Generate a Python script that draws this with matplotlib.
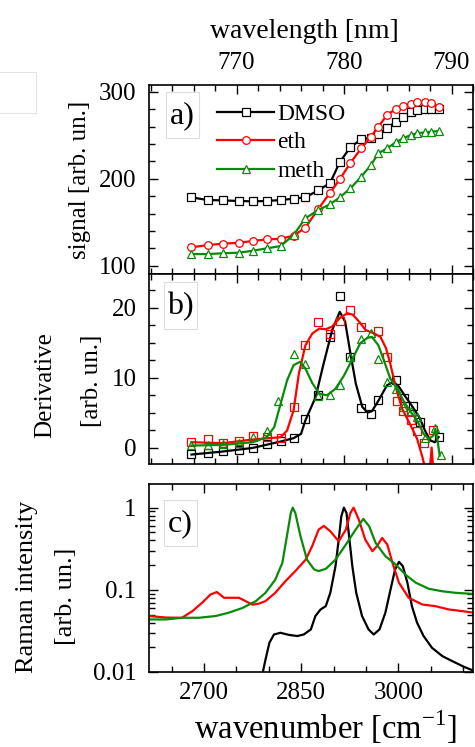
import matplotlib
matplotlib.use("Agg")
import matplotlib.pyplot as plt
from matplotlib.ticker import MultipleLocator, LogLocator, NullFormatter, FixedLocator, FuncFormatter
from matplotlib.patches import Rectangle

plt.rcParams['font.family'] = ['Liberation Serif', 'DejaVu Serif']
plt.rcParams['mathtext.fontset'] = 'custom'
plt.rcParams['mathtext.rm'] = 'Liberation Serif'

# ---------------- data ----------------
series_names = ["DMSO", "eth", "meth"]
series_colors = ["black", "#ff0000", "#0a8a0a"]

# panel a: signal vs wavelength (nm)
wl_a = [765.8, 767.3, 768.7, 770.2, 771.5, 772.8, 774.1, 775.3, 776.4, 777.6, 778.7, 779.6,
        780.6, 781.6, 782.5, 783.2, 784.0, 784.8, 785.5, 786.2, 786.8, 787.5, 788.1, 788.8]
sig_dmso = [178.6, 175.5, 175.1, 174.4, 174.0, 174.4, 175.5, 177.0, 178.6, 186.6, 195.0, 219.0,
            236.4, 245.2, 247.1, 251.0, 257.9, 265.5, 271.3, 276.2, 279.3, 280.1, 280.1, 280.1]
sig_eth = [121.1, 123.8, 125.3, 126.4, 128.4, 130.3, 131.0, 134.5, 143.7, 165.2, 183.9, 199.3,
           218.4, 234.9, 248.3, 259.8, 273.2, 280.1, 283.9, 286.2, 287.8, 288.5, 287.5, 282.0]
sig_meth = [113.4, 113.4, 114.3, 115.0, 117.2, 120.0, 122.6, 135.3, 154.5, 164.0, 170.6, 178.6,
            189.0, 202.3, 215.7, 229.2, 234.9, 241.8, 246.4, 250.2, 252.2, 253.3, 254.0, 254.8]

# panel b: derivative markers (wavelength nm)
wl_b_dmso = [765.8, 767.3, 768.7, 770.2, 771.5, 772.8, 774.1, 775.3, 776.4, 777.6, 778.7, 779.6,
             780.6, 781.6, 782.5, 783.2, 784.8, 785.6, 786.4, 787.1, 788.8]
der_dmso = [-0.9, -0.8, -0.5, -0.4, 0.0, 0.5, 1.0, 1.4, 4.1, 7.5, 15.8, 21.7,
            13.0, 5.6, 4.8, 6.8, 9.7, 7.1, 5.9, 3.7, 1.5]
wl_b_eth = [765.8, 767.3, 768.7, 770.2, 771.5, 772.8, 774.1, 775.3, 776.4, 777.6, 778.7, 779.6,
            780.6, 781.6, 783.2, 784.0, 784.9, 785.5, 786.2, 786.8, 787.4, 788.3]
der_eth = [0.86, 1.25, 0.63, 1.0, 1.72, 1.49, 1.35, 5.8, 14.6, 18.0, 16.2, 18.1,
           19.7, 17.2, 16.6, 12.9, 6.6, 5.2, 4.0, 2.4, 0.6, 2.5]
wl_b_meth = [765.8, 767.3, 768.7, 770.2, 771.5, 772.8, 773.9, 775.3, 776.4, 777.6, 778.7, 779.6,
             780.6, 781.6, 782.5, 783.2, 784.0, 784.8, 785.5, 786.2, 786.8, 787.5, 788.5, 789.0]
der_meth = [0.39, 0.39, 0.53, 0.67, 1.54, 2.35, 6.66, 13.3, 12.0, 7.3, 7.45, 8.9,
            13.0, 15.5, 16.4, 12.7, 9.4, 8.4, 5.8, 5.2, 4.4, 1.35, 2.8, -1.0]

# panel b: smoothed curves (wavelength nm)
wl_fit_dmso = [765.8, 768.7, 771.5, 774.1, 775.3, 776.0, 776.4, 777.35, 778.1, 778.9, 779.6, 780.1,
               780.6, 781.1, 781.7, 782.2, 782.6, 783.2, 784.0, 784.6, 785.1, 785.7, 786.3, 787.0,
               787.6, 788.05, 788.45, 788.8]
fit_dmso = [-1.0, -0.57, -0.05, 0.86, 1.34, 1.96, 3.87, 7.2, 12.0, 16.8, 19.4, 18.0,
            13.4, 9.1, 5.8, 5.0, 5.2, 6.7, 8.9, 9.4, 8.7, 7.3, 6.0, 4.35,
            2.2, 1.0, 0.76, 1.5]
wl_fit_eth = [765.8, 768.7, 771.5, 774.1, 774.7, 775.3, 775.8, 776.4, 777.05, 777.7, 778.3, 778.9,
              779.6, 780.3, 780.8, 781.4, 782.0, 782.8, 783.4, 783.9, 784.3, 784.8, 785.4, 786.2,
              786.8, 787.3, 787.7, 787.95, 788.15, 788.35]
fit_eth = [0.77, 0.62, 1.15, 1.48, 2.44, 5.3, 10.6, 14.6, 16.3, 17.0, 16.9, 17.3,
           18.5, 19.2, 19.0, 18.0, 16.8, 16.3, 15.8, 14.2, 12.0, 8.7, 5.55, 3.16,
           1.24, -1.4, -4.0, -4.0, 0.0, -4.0]
wl_fit_meth = [765.8, 768.7, 771.5, 772.8, 773.5, 774.1, 774.7, 775.3, 775.9, 776.4, 777.05, 777.7,
               778.4, 779.2, 780.0, 780.8, 781.5, 782.2, 782.6, 783.2, 783.7, 784.3, 784.95, 785.6,
               786.2, 786.8, 787.4, 787.9, 788.3, 788.5, 788.7, 788.9]
fit_meth = [0.28, 0.38, 0.76, 1.48, 2.91, 6.26, 9.6, 11.77, 12.25, 11.3, 9.2, 7.7,
            7.46, 8.4, 10.3, 12.7, 14.9, 15.7, 15.8, 14.6, 12.5, 9.85, 8.4, 6.5,
            5.1, 3.87, 1.96, 1.24, 1.7, 2.67, 1.0, -1.15]

# panel c: Raman spectra (wavenumber cm-1)
wn_dmso = [2786, 2790, 2795, 2801, 2808, 2818, 2831, 2844, 2854, 2865, 2872, 2880, 2888, 2895,
           2903, 2908, 2912, 2916, 2920, 2924, 2929, 2935, 2944, 2954, 2962, 2971, 2980, 2988,
           2995, 3001, 3007, 3014, 3021, 3029, 3039, 3052, 3068, 3083, 3101, 3117]
ram_dmso = [0.008, 0.0093, 0.0142, 0.0227, 0.0286, 0.030, 0.0283, 0.0274, 0.0286, 0.033, 0.048,
            0.0577, 0.0633, 0.092, 0.194, 0.408, 0.785, 1.0, 0.86, 0.449, 0.194, 0.092, 0.048,
            0.033, 0.0286, 0.033, 0.0526, 0.101, 0.177, 0.219, 0.194, 0.122, 0.0633, 0.0397,
            0.0274, 0.0197, 0.0156, 0.0136, 0.0116, 0.0103]
wn_eth = [2615, 2641, 2666, 2682, 2697, 2710, 2720, 2731, 2744, 2754, 2764, 2775, 2785, 2795,
          2810, 2826, 2841, 2857, 2867, 2877, 2885, 2895, 2908, 2919, 2926, 2931, 2939, 2949,
          2960, 2967, 2975, 2983, 2991, 3001, 3016, 3037, 3057, 3078, 3099, 3117]
ram_eth = [0.048, 0.046, 0.0457, 0.055, 0.0695, 0.0877, 0.094, 0.080, 0.080, 0.080, 0.073,
           0.066, 0.068, 0.073, 0.092, 0.128, 0.169, 0.233, 0.34, 0.54, 0.60, 0.516, 0.39,
           0.54, 0.86, 1.0, 0.715, 0.408, 0.295, 0.34, 0.428, 0.355, 0.213, 0.122, 0.080,
           0.0663, 0.0633, 0.0577, 0.055, 0.0526]
wn_meth = [2615, 2641, 2666, 2692, 2718, 2738, 2759, 2780, 2795, 2810, 2821, 2828, 2834, 2837,
           2841, 2849, 2859, 2870, 2877, 2888, 2903, 2919, 2934, 2946, 2955, 2965, 2980, 2996,
           3011, 3027, 3047, 3068, 3088, 3117]
ram_meth = [0.0436, 0.0436, 0.0457, 0.0457, 0.048, 0.0526, 0.060, 0.0728, 0.092, 0.133, 0.213,
            0.449, 0.86, 1.0, 0.86, 0.449, 0.233, 0.177, 0.169, 0.18, 0.233, 0.355, 0.54, 0.73,
            0.594, 0.372, 0.257, 0.203, 0.153, 0.122, 0.103, 0.096, 0.092, 0.089]

wl_ticks = [770, 780, 790]
wn_ticks = [2700, 2850, 3000]
panel_labels = ["a)", "b)", "c)"]

# ---------------- figure ----------------
W, H = 475, 747
fig = plt.figure(figsize=(W / 100, H / 100), dpi=100)


def fx(px):
    return px / W


def fy(py):
    return 1 - py / H


def axes_px(x0, y0, x1, y1):
    return fig.add_axes([fx(x0), fy(y1), fx(x1 - x0), (y1 - y0) / H])


axa = axes_px(149, 85, 473, 274)
axb = axes_px(149, 274, 473, 464)
axc = axes_px(149, 484, 473, 672)

TL = 18


def style(ax):
    for s in ax.spines.values():
        s.set_linewidth(1.2)
    ax.tick_params(which='both', direction='in', top=True, right=True, width=1.0,
                   labelsize=TL)
    ax.tick_params(which='major', length=6.5)
    ax.tick_params(which='minor', length=4)
    ax.tick_params(axis='y', pad=9)


# panel a
mk_a = ['s', 'o', '^']
for x, y, c, m, n in zip([wl_a] * 3, [sig_dmso, sig_eth, sig_meth], series_colors, mk_a, series_names):
    axa.plot(x, y, color=c, lw=1.6, marker=m, ms=5.5, mfc='white', mec=c, mew=0.9, label=n)
axa.set_xlim(761.85, 792.0)
axa.set_ylim(90.5, 307.7)
style(axa)
axa.xaxis.set_major_locator(FixedLocator(wl_ticks))
axa.xaxis.set_minor_locator(MultipleLocator(2))
axa.yaxis.set_major_locator(MultipleLocator(100))
axa.yaxis.set_minor_locator(MultipleLocator(20))
axa.tick_params(axis='x', labeltop=True, labelbottom=False, pad=8)
leg = axa.legend(loc='upper left', bbox_to_anchor=(0.167, 0.978), frameon=False, fontsize=17,
                 handlelength=2.4, handletextpad=0.15, labelspacing=0.3, borderaxespad=0.2,
                 numpoints=1)

# panel b
mk_b = ['s', 's', '^']
for xm, ym, xf, yf, c, m in zip([wl_b_dmso, wl_b_eth, wl_b_meth], [der_dmso, der_eth, der_meth],
                                [wl_fit_dmso, wl_fit_eth, wl_fit_meth], [fit_dmso, fit_eth, fit_meth],
                                series_colors, mk_b):
    axb.plot(xm, ym, ls='none', marker=m, ms=5.5, mfc='none', mec=c, mew=0.9)
    axb.plot(xf, yf, color=c, lw=1.6)
axb.set_xlim(761.85, 792.0)
axb.set_ylim(-2.35, 24.8)
style(axb)
axb.xaxis.set_major_locator(FixedLocator(wl_ticks))
axb.xaxis.set_minor_locator(MultipleLocator(2))
axb.yaxis.set_major_locator(MultipleLocator(10))
axb.yaxis.set_minor_locator(MultipleLocator(2.5))
axb.tick_params(axis='x', labelbottom=False)

# panel c
for x, y, c in zip([wn_dmso, wn_eth, wn_meth], [ram_dmso, ram_eth, ram_meth], series_colors):
    axc.plot(x, y, color=c, lw=1.6)
axc.set_yscale('log')
axc.set_xlim(2615.1, 3115.3)
axc.set_ylim(0.01, 1.94)
style(axc)
axc.xaxis.set_major_locator(FixedLocator(wn_ticks))
axc.xaxis.set_minor_locator(MultipleLocator(50))
axc.yaxis.set_major_locator(LogLocator(base=10, numticks=10))
axc.yaxis.set_minor_locator(LogLocator(base=10, subs=range(2, 10), numticks=10))
axc.yaxis.set_minor_formatter(NullFormatter())
axc.yaxis.set_major_formatter(FuncFormatter(lambda v, p: f"{v:g}"))
axc.tick_params(axis='x', pad=7)

# panel label boxes
for ax, lab, (bx0, by0, bx1, by1) in zip([axa, axb, axc], panel_labels,
                                         [(166, 92, 199, 138), (164, 282, 197, 329), (164, 500, 197, 546)]):
    fig.patches.append(Rectangle((fx(bx0), fy(by1)), fx(bx1 - bx0), (by1 - by0) / H,
                                 transform=fig.transFigure, fc='white', ec='#dddddd', lw=0.8, zorder=5))
    fig.text(fx((bx0 + bx1) / 2), fy((by0 + by1) / 2 + 1), lab, fontsize=23,
             ha='center', va='center', zorder=6)

# stray box at top-left
fig.patches.append(Rectangle((fx(-2), fy(113)), fx(38), 41 / H, transform=fig.transFigure,
                             fc='white', ec='#e4e4e4', lw=0.8))

# axis labels
fig.text(fx(304), fy(31), "wavelength [nm]", fontsize=20, ha='center', va='center')
fig.text(fx(80), fy(180), "signal [arb. un.]", fontsize=18, rotation=90, ha='center', va='center')
fig.text(fx(45), fy(385), "Derivative", fontsize=18, rotation=90, ha='center', va='center')
fig.text(fx(92), fy(381), "[arb. un.]", fontsize=18, rotation=90, ha='center', va='center')
fig.text(fx(27.5), fy(587), "Raman intensity", fontsize=19, rotation=90, ha='center', va='center')
fig.text(fx(66), fy(596), "[arb. un.]", fontsize=19, rotation=90, ha='center', va='center')
fig.text(fx(326), fy(727), "wavenumber [cm$^{\\mathregular{-1}}$]", fontsize=23.5, ha='center', va='center')

fig.savefig("out.png", dpi=100)
